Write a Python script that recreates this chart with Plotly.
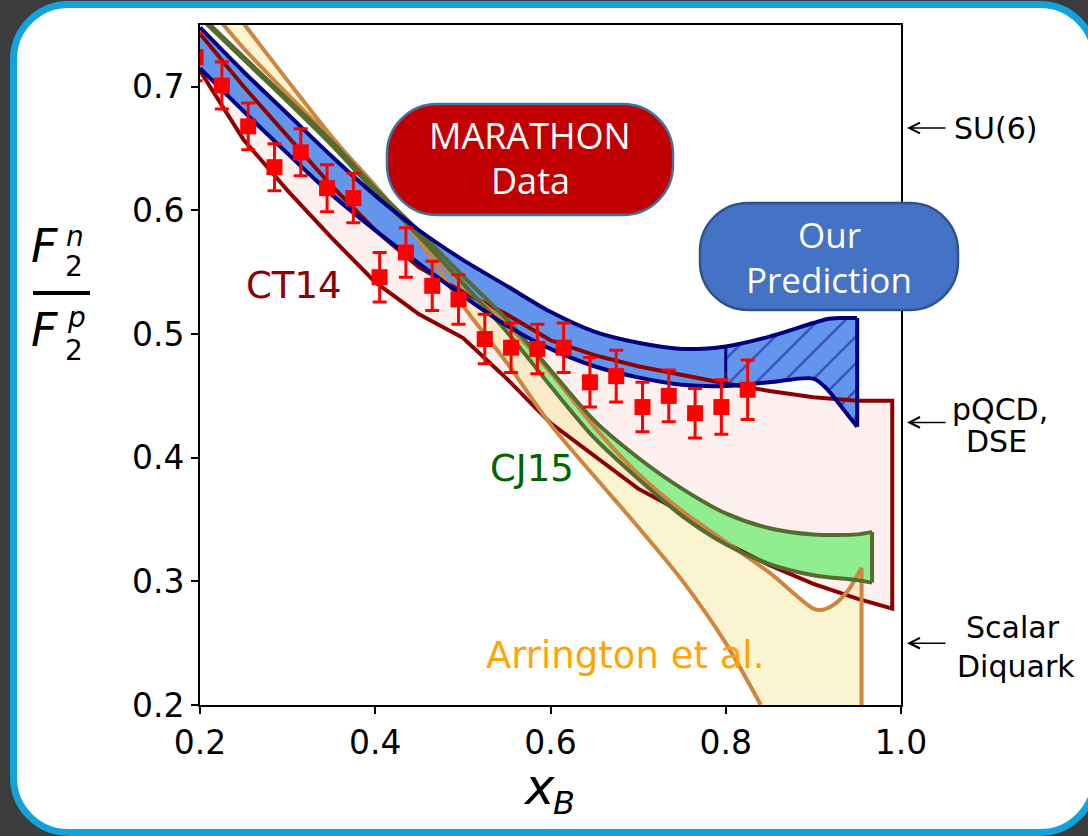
import plotly.graph_objects as go

# ---------------- MARATHON F2n/F2p data ----------------
data_x = [0.195, 0.225, 0.255, 0.285, 0.315, 0.345, 0.375, 0.405, 0.435, 0.465, 0.495,
          0.525, 0.555, 0.585, 0.615, 0.645, 0.675, 0.705, 0.735, 0.765, 0.795, 0.825]
data_y = [0.724, 0.701, 0.668, 0.635, 0.647, 0.618, 0.610, 0.546, 0.566, 0.539, 0.528,
          0.496, 0.489, 0.488, 0.489, 0.461, 0.466, 0.441, 0.450, 0.436, 0.441, 0.455]
data_err = [0.019, 0.019, 0.019, 0.019, 0.019, 0.019, 0.020, 0.020, 0.020, 0.020, 0.020,
            0.020, 0.020, 0.020, 0.020, 0.020, 0.021, 0.020, 0.021, 0.020, 0.022, 0.024]

# ---------------- our prediction band ----------------
pred_x = [0.20, 0.25, 0.30, 0.35, 0.40, 0.45, 0.50, 0.55, 0.60, 0.65, 0.70, 0.75, 0.80,
          0.85, 0.90, 0.915, 0.93, 0.94, 0.95]
pred_hi = [0.748, 0.712, 0.678, 0.644, 0.612, 0.584, 0.560, 0.539, 0.518, 0.502, 0.493, 0.488, 0.490,
           0.498, 0.509, 0.512, 0.513, 0.513, 0.513]
pred_lo = [0.715, 0.680, 0.646, 0.613, 0.584, 0.557, 0.531, 0.507, 0.488, 0.474, 0.465, 0.459, 0.458,
           0.461, 0.464, 0.456, 0.443, 0.434, 0.425]
pred_split = 0.80  # hatched beyond this x

# ---------------- CT14 band ----------------
ct14_x = [0.20, 0.25, 0.30, 0.35, 0.40, 0.45, 0.50, 0.55, 0.60, 0.65, 0.70, 0.75, 0.80,
          0.85, 0.90, 0.95, 0.99]
ct14_hi = [0.743, 0.700, 0.660, 0.620, 0.584, 0.554, 0.534, 0.516, 0.495, 0.483, 0.474, 0.467, 0.460,
           0.454, 0.449, 0.446, 0.446]
ct14_lo = [0.713, 0.657, 0.616, 0.578, 0.542, 0.516, 0.497, 0.464, 0.428, 0.402, 0.375, 0.356, 0.331,
           0.313, 0.298, 0.286, 0.278]

# ---------------- CJ15 band ----------------
cj15_x = [0.20, 0.25, 0.30, 0.35, 0.40, 0.45, 0.50, 0.55, 0.60, 0.65, 0.70, 0.75, 0.80,
          0.85, 0.90, 0.95, 0.967]
cj15_hi = [0.758, 0.724, 0.690, 0.656, 0.618, 0.583, 0.547, 0.512, 0.471, 0.430, 0.400, 0.375, 0.355,
           0.343, 0.338, 0.338, 0.340]
cj15_lo = [0.756, 0.722, 0.688, 0.653, 0.615, 0.579, 0.541, 0.502, 0.458, 0.416, 0.383, 0.353, 0.330,
           0.314, 0.305, 0.301, 0.299]

# ---------------- Arrington et al. band ----------------
arr_x = [0.20, 0.25, 0.30, 0.35, 0.40, 0.45, 0.50, 0.55, 0.60, 0.65, 0.70, 0.75, 0.80,
         0.85, 0.90, 0.91, 0.925, 0.94, 0.955]
arr_hi = [0.798, 0.751, 0.705, 0.660, 0.619, 0.579, 0.539, 0.508, 0.469, 0.425, 0.387, 0.357, 0.332,
          0.307, 0.278, 0.277, 0.282, 0.293, 0.311]
arr_lo_x = [0.20, 0.25, 0.30, 0.35, 0.40, 0.45, 0.50, 0.55, 0.60, 0.65, 0.70, 0.75, 0.80, 0.84]
arr_lo = [0.773, 0.731, 0.694, 0.658, 0.620, 0.576, 0.523, 0.477, 0.427, 0.385, 0.344, 0.301, 0.250, 0.200]

# ---------------- limits and reference values ----------------
x_range = [0.2, 1.0]
y_range = [0.2, 0.75]
x_ticks = [0.2, 0.4, 0.6, 0.8, 1.0]
y_ticks = [0.2, 0.3, 0.4, 0.5, 0.6, 0.7]
limits = [("SU(6)", 2 / 3), ("pQCD,<br>DSE", 3 / 7), ("Scalar<br>Diquark", 0.25)]

# ---------------- colours ----------------
C_PRED_FILL, C_PRED_EDGE = "#6495ED", "#000080"
C_CT14_FILL, C_CT14_EDGE = "#FFF0F0", "#8B0000"
C_CJ15_FILL, C_CJ15_EDGE = "#90EE90", "#556B2F"
C_ARR_FILL, C_ARR_EDGE = "rgba(240,222,110,0.32)", "#CD853F"

W, H = 1088, 836
ML, MR, MT, MB = 200, 187, 25, 131
PW, PH = W - ML - MR, H - MT - MB


def fx(col):
    """pixel column -> paper x"""
    return (col - ML) / PW


def fy(row):
    """pixel row -> paper y"""
    return (H - MB - row) / PH


def rounded_rect(x0, y0, x1, y1, r):
    """SVG path of a rounded rectangle given in pixels, returned in paper units"""
    k = 0.5523 * r
    P = lambda a, b: f"{fx(a):.5f},{fy(b):.5f}"
    return (f"M{P(x0 + r, y0)} L{P(x1 - r, y0)} "
            f"C{P(x1 - r + k, y0)} {P(x1, y0 + r - k)} {P(x1, y0 + r)} "
            f"L{P(x1, y1 - r)} "
            f"C{P(x1, y1 - r + k)} {P(x1 - r + k, y1)} {P(x1 - r, y1)} "
            f"L{P(x0 + r, y1)} "
            f"C{P(x0 + r - k, y1)} {P(x0, y1 - r + k)} {P(x0, y1 - r)} "
            f"L{P(x0, y0 + r)} "
            f"C{P(x0, y0 + r - k)} {P(x0 + r - k, y0)} {P(x0 + r, y0)} Z")


def band_polygon(xs, hi, lo):
    return list(xs) + list(xs)[::-1], list(hi) + list(lo)[::-1]


fig = go.Figure()


def fill(xs, ys, color, **kw):
    fig.add_trace(go.Scatter(x=xs, y=ys, fill="toself", fillcolor=color,
                             mode="none", hoverinfo="skip", **kw))


def edge(xs, ys, color, width=4, smooth=True):
    line = dict(color=color, width=width)
    if smooth:
        line.update(shape="spline", smoothing=0.8)
    fig.add_trace(go.Scatter(x=xs, y=ys, mode="lines", line=line, hoverinfo="skip"))


# ---- band fills ----
fill(*band_polygon(ct14_x, ct14_hi, ct14_lo), C_CT14_FILL)
fill(arr_x + [arr_x[-1]] + arr_lo_x[::-1], arr_hi + [y_range[0]] + arr_lo[::-1], C_ARR_FILL)
fill(*band_polygon(cj15_x, cj15_hi, cj15_lo), C_CJ15_FILL)

i_split = pred_x.index(pred_split)
fill(*band_polygon(pred_x[:i_split + 1], pred_hi[:i_split + 1], pred_lo[:i_split + 1]), C_PRED_FILL)
fill(*band_polygon(pred_x[i_split:], pred_hi[i_split:], pred_lo[i_split:]), C_PRED_FILL,
     fillpattern=dict(shape="/", fgcolor=C_PRED_EDGE, bgcolor=C_PRED_FILL,
                      size=19, solidity=0.12))

# ---- band outlines ----
# CT14: raw (unsmoothed) outline
edge(*band_polygon(ct14_x, ct14_hi, ct14_lo), C_CT14_EDGE, smooth=False)
# Arrington et al.
edge(arr_x, arr_hi, C_ARR_EDGE)
edge([arr_x[-1], arr_x[-1]], [arr_hi[-1], y_range[0]], C_ARR_EDGE, smooth=False)
edge(arr_lo_x, arr_lo, C_ARR_EDGE)
# CJ15
edge(cj15_x, cj15_hi, C_CJ15_EDGE)
edge(cj15_x, cj15_lo, C_CJ15_EDGE)
edge([cj15_x[-1], cj15_x[-1]], [cj15_hi[-1], cj15_lo[-1]], C_CJ15_EDGE, smooth=False)
# our prediction
edge(pred_x, pred_hi, C_PRED_EDGE)
edge(pred_x, pred_lo, C_PRED_EDGE)
edge([pred_x[-1], pred_x[-1]], [pred_hi[-1], pred_lo[-1]], C_PRED_EDGE, smooth=False)
edge([pred_split, pred_split], [pred_hi[i_split], pred_lo[i_split]], C_PRED_EDGE, width=3,
     smooth=False)

# ---- data ----
fig.add_trace(go.Scatter(
    x=data_x, y=data_y, mode="markers",
    marker=dict(symbol="square", size=16, color="#FF0000"),
    error_y=dict(type="data", array=data_err, color="#FF0000", thickness=3, width=7),
))

# ---- decorations ----
shapes = [
    dict(type="path", xref="paper", yref="paper", layer="below",
         path=rounded_rect(13.5, 4.5, 1095, 832.5, 55),
         fillcolor="white", line=dict(color="#12A3DD", width=7)),
    dict(type="path", xref="paper", yref="paper", layer="above",
         path=rounded_rect(387, 104, 673, 215, 50),
         fillcolor="#C00000", line=dict(color="#41719C", width=2.5)),
    dict(type="path", xref="paper", yref="paper", layer="above",
         path=rounded_rect(700, 203, 958, 310, 48),
         fillcolor="#4472C4", line=dict(color="#2F528F", width=2.5)),
    # fraction bar of the y title
    dict(type="line", xref="paper", yref="paper", x0=fx(33), x1=fx(90), y0=fy(293), y1=fy(293),
         line=dict(color="black", width=4)),
]

annotations = []


def label(text, cx, cy, size, color="black", family="DejaVu Sans", xanchor="center"):
    annotations.append(dict(text=text, x=fx(cx), y=fy(cy), xref="paper", yref="paper",
                            xanchor=xanchor, yanchor="middle", showarrow=False,
                            font=dict(family=family, size=size, color=color)))


label("CT14", 294, 285, 37, C_CT14_EDGE)
label("CJ15", 532, 468, 37, "#006400")
label("Arrington et al.", 625, 655, 37, "#FFA500")

label("MARATHON", 530, 135, 36, "white", "Open Sans")
label("Data", 530, 181, 36, "white", "Open Sans")
label("Our", 829, 234, 35, "white", "Open Sans")
label("Prediction", 829, 279, 35, "white", "Open Sans")

# y title: F2^n / F2^p
label("<i>F</i>", 44, 246, 46)
label("<i>n</i>", 75, 236, 28)
label("2", 74, 266, 28)
label("<i>F</i>", 44, 330, 46)
label("<i>p</i>", 76, 317, 28)
label("2", 74, 350, 28)
# x title
label("<i>x</i>", 539, 787, 50)
label("<i>B</i>", 564, 803, 32)

# limit markers at x -> 1
text_rows = {"SU(6)": [(996, 128, "SU(6)")],
             "pQCD,<br>DSE": [(1000, 409, "pQCD,"), (996, 441, "DSE")],
             "Scalar<br>Diquark": [(1013, 627, "Scalar"), (1016, 666, "Diquark")]}
for name, value in limits:
    row = H - MB - (value - y_range[0]) / (y_range[1] - y_range[0]) * PH
    annotations.append(dict(text="", x=fx(907), y=fy(row), xref="paper", yref="paper",
                            showarrow=True, ax=40, ay=0, arrowhead=5, arrowsize=1.4,
                            arrowwidth=1.5, arrowcolor="black"))
    for cx, cy, t in text_rows[name]:
        label(t, cx, cy, 30)

axis_common = dict(showline=True, mirror=True, linecolor="black", linewidth=2,
                   ticks="outside", ticklen=7, tickwidth=2, tickcolor="black",
                   showgrid=False, zeroline=False,
                   tickfont=dict(family="DejaVu Sans", size=33, color="black"))

fig.update_layout(
    width=W, height=H,
    margin=dict(l=ML, r=MR, t=MT, b=MB),
    paper_bgcolor="#3C3C3C", plot_bgcolor="white",
    showlegend=False,
    shapes=shapes, annotations=annotations,
    xaxis=dict(range=x_range, tickvals=x_ticks, tickformat=".1f", **axis_common),
    yaxis=dict(range=y_range, tickvals=y_ticks, tickformat=".1f", **axis_common),
)

fig.write_html("out.html")
